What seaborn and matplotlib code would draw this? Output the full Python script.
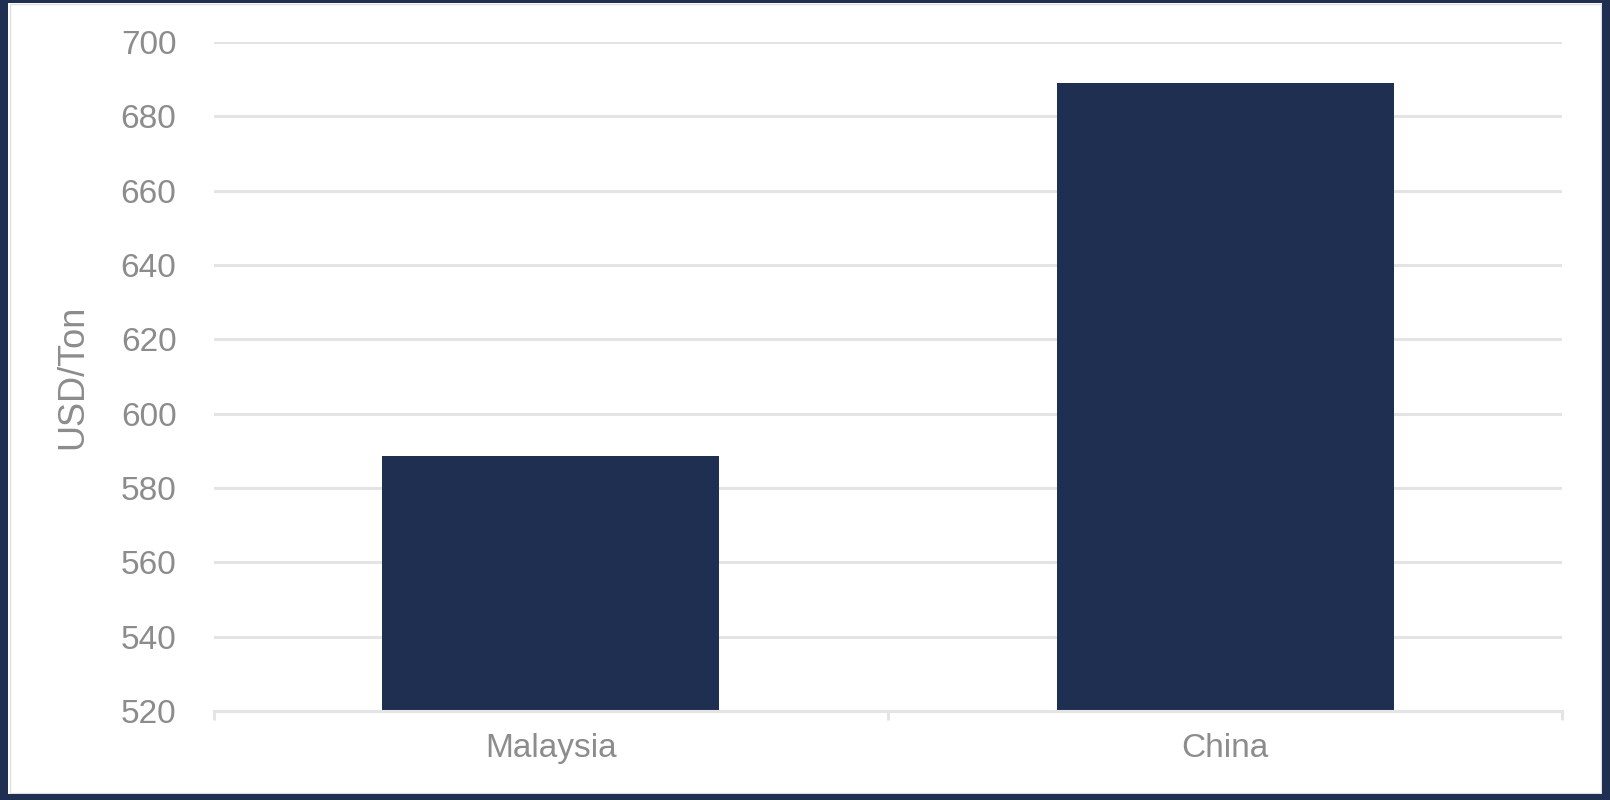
import matplotlib
matplotlib.use("Agg")
import matplotlib.pyplot as plt
import seaborn as sns
import pandas as pd
from matplotlib.patches import Rectangle
from matplotlib.ticker import FixedLocator

categories = ["Malaysia", "China"]
values = [588.6, 689]
y_ticks = [520, 540, 560, 580, 600, 620, 640, 660, 680, 700]
y_label = "USD/Ton"

NAVY = "#1F2F52"
GRID = "#E4E4E4"
TEXT = "#8C8C8C"

sns.set_theme(style="white")
plt.rcParams["font.family"] = ["Liberation Sans", "DejaVu Sans"]

fig = plt.figure(figsize=(16.1, 8.0), dpi=100)
ax = fig.add_axes([0.1329, 0.1113, 0.9702 - 0.1329, 0.9475 - 0.1113])

df = pd.DataFrame({"country": categories, "value": values})
sns.barplot(data=df, x="country", y="value", color=NAVY, saturation=1,
            width=0.5, ax=ax, zorder=3, linewidth=0, edgecolor=NAVY)

ax.set_ylim(520, 700)
ax.set_xlim(-0.5, len(categories) - 0.5)
ax.set_yticks(y_ticks)
ax.set_yticklabels([str(t) for t in y_ticks])
ax.yaxis.grid(True, color=GRID, linewidth=2.2, zorder=0)
ax.set_axisbelow(True)
for s in ["top", "right", "left"]:
    ax.spines[s].set_visible(False)
ax.spines["bottom"].set_color(GRID)
ax.spines["bottom"].set_linewidth(2.2)
ax.spines["bottom"].set_zorder(4)

ax.tick_params(axis="y", length=0, pad=27, labelsize=24, labelcolor=TEXT)
ax.tick_params(axis="x", which="major", length=0, pad=16, labelsize=24, labelcolor=TEXT)
ax.xaxis.set_minor_locator(FixedLocator([-0.5 + i for i in range(len(categories) + 1)]))
ax.tick_params(axis="x", which="minor", length=6.5, width=2.2, color=GRID, bottom=True)

ax.set_xlabel("")
ax.set_ylabel(y_label, fontsize=26, color=TEXT, labelpad=22)

# figure frame
W, H = 1610, 800
def frect(x0, y0, w, h, color):
    fig.add_artist(Rectangle((x0 / W, y0 / H), w / W, h / H, transform=fig.transFigure,
                             facecolor=color, edgecolor="none", zorder=10))
frect(0, 0, 8, H, NAVY)
frect(W - 8, 0, 8, H, NAVY)
frect(0, 0, W, 6, NAVY)
frect(0, H - 3, W, 3, NAVY)
fig.add_artist(Rectangle((9.5 / W, 7 / H), (W - 19) / W, (H - 11) / H, transform=fig.transFigure,
                         facecolor="none", edgecolor="#E0E0E0", linewidth=1.0, zorder=9))

fig.savefig("out.png", dpi=100)
